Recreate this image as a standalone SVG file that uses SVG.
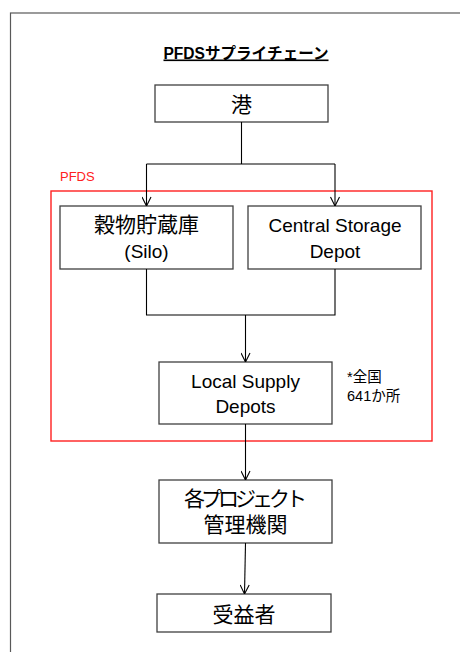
<svg xmlns="http://www.w3.org/2000/svg" width="460" height="652" viewBox="0 0 460 652">
<style>
.frame{fill:none;stroke:#595959;stroke-width:1.2}
.box{fill:#fff;stroke:#404040;stroke-width:1.3}
.grp{fill:none;stroke:#ff2020;stroke-width:1.4}
.con{fill:none;stroke:#000;stroke-width:1.1}
.lat{font-family:"Liberation Sans","Noto Sans CJK JP",sans-serif;font-size:19px;fill:#000;text-anchor:middle}
.jp{font-family:"Noto Sans CJK JP",sans-serif;font-size:21px;fill:#000;text-anchor:middle}
.note{font-family:"Liberation Sans","Noto Sans CJK JP",sans-serif;font-size:14.5px;fill:#000}
</style>
<defs>
<marker id="arr" viewBox="0 0 10 10" markerWidth="10" markerHeight="10" refX="10" refY="5" orient="auto" markerUnits="userSpaceOnUse">
<path d="M1,0.5 L10,5 L1,9.5" fill="none" stroke="#000" stroke-width="1.1"/>
</marker>
</defs>
<rect width="460" height="652" fill="#fff"/>
<rect class="frame" x="10.5" y="13" width="470" height="700"/>
<g id="title">
<text x="246" y="58.5" text-anchor="middle" textLength="165" lengthAdjust="spacingAndGlyphs" text-decoration="underline" font-family="Liberation Sans, Noto Sans CJK JP, sans-serif" font-weight="bold" font-size="16">PFDSサプライチェーン</text>
</g>
<g id="pfds">
<rect class="grp" x="51" y="191" width="381" height="250"/>
<text x="60" y="181" font-family="Liberation Sans, sans-serif" font-size="13" fill="#ff2020">PFDS</text>
</g>
<g id="port">
<rect class="box" x="155" y="85" width="173" height="37"/>
<text class="jp" x="241.5" y="111.5" font-size="20">港</text>
</g>
<g id="silo">
<rect class="box" x="60" y="206" width="173" height="63"/>
<text class="jp" x="146.5" y="232">穀物貯蔵庫</text>
<text class="lat" x="146.5" y="257.5">(Silo)</text>
</g>
<g id="csd">
<rect class="box" x="248" y="206" width="173" height="63"/>
<text class="lat" x="335" y="231.5">Central Storage</text>
<text class="lat" x="335" y="257.5">Depot</text>
</g>
<g id="lsd">
<rect class="box" x="159" y="362" width="173" height="62"/>
<text class="lat" x="245.5" y="387.5">Local Supply</text>
<text class="lat" x="245.5" y="412.5">Depots</text>
</g>
<g id="note">
<text class="note" x="347" y="382">*全国</text>
<text class="note" x="347" y="401">641か所</text>
</g>
<g id="pma">
<rect class="box" x="159" y="480" width="173" height="63"/>
<text class="jp" x="245.5" y="505.5" font-size="20" textLength="123">各プロジェクト</text>
<text class="jp" x="245.5" y="532" font-size="20.5">管理機関</text>
</g>
<g id="ben">
<rect class="box" x="157" y="594" width="174" height="38"/>
<text class="jp" x="244" y="622">受益者</text>
</g>
<g id="connectors">
<path class="con" d="M241.5,122 V164"/>
<path class="con" d="M146.5,164 H335"/>
<path class="con" d="M146.5,164 V206" marker-end="url(#arr)"/>
<path class="con" d="M335,164 V206" marker-end="url(#arr)"/>
<path class="con" d="M146.5,269 V315 H335 V269"/>
<path class="con" d="M245.5,315 V362" marker-end="url(#arr)"/>
<path class="con" d="M245.5,424 V480" marker-end="url(#arr)"/>
<path class="con" d="M245.5,543 L244.5,594" marker-end="url(#arr)"/>
</g>
</svg>
